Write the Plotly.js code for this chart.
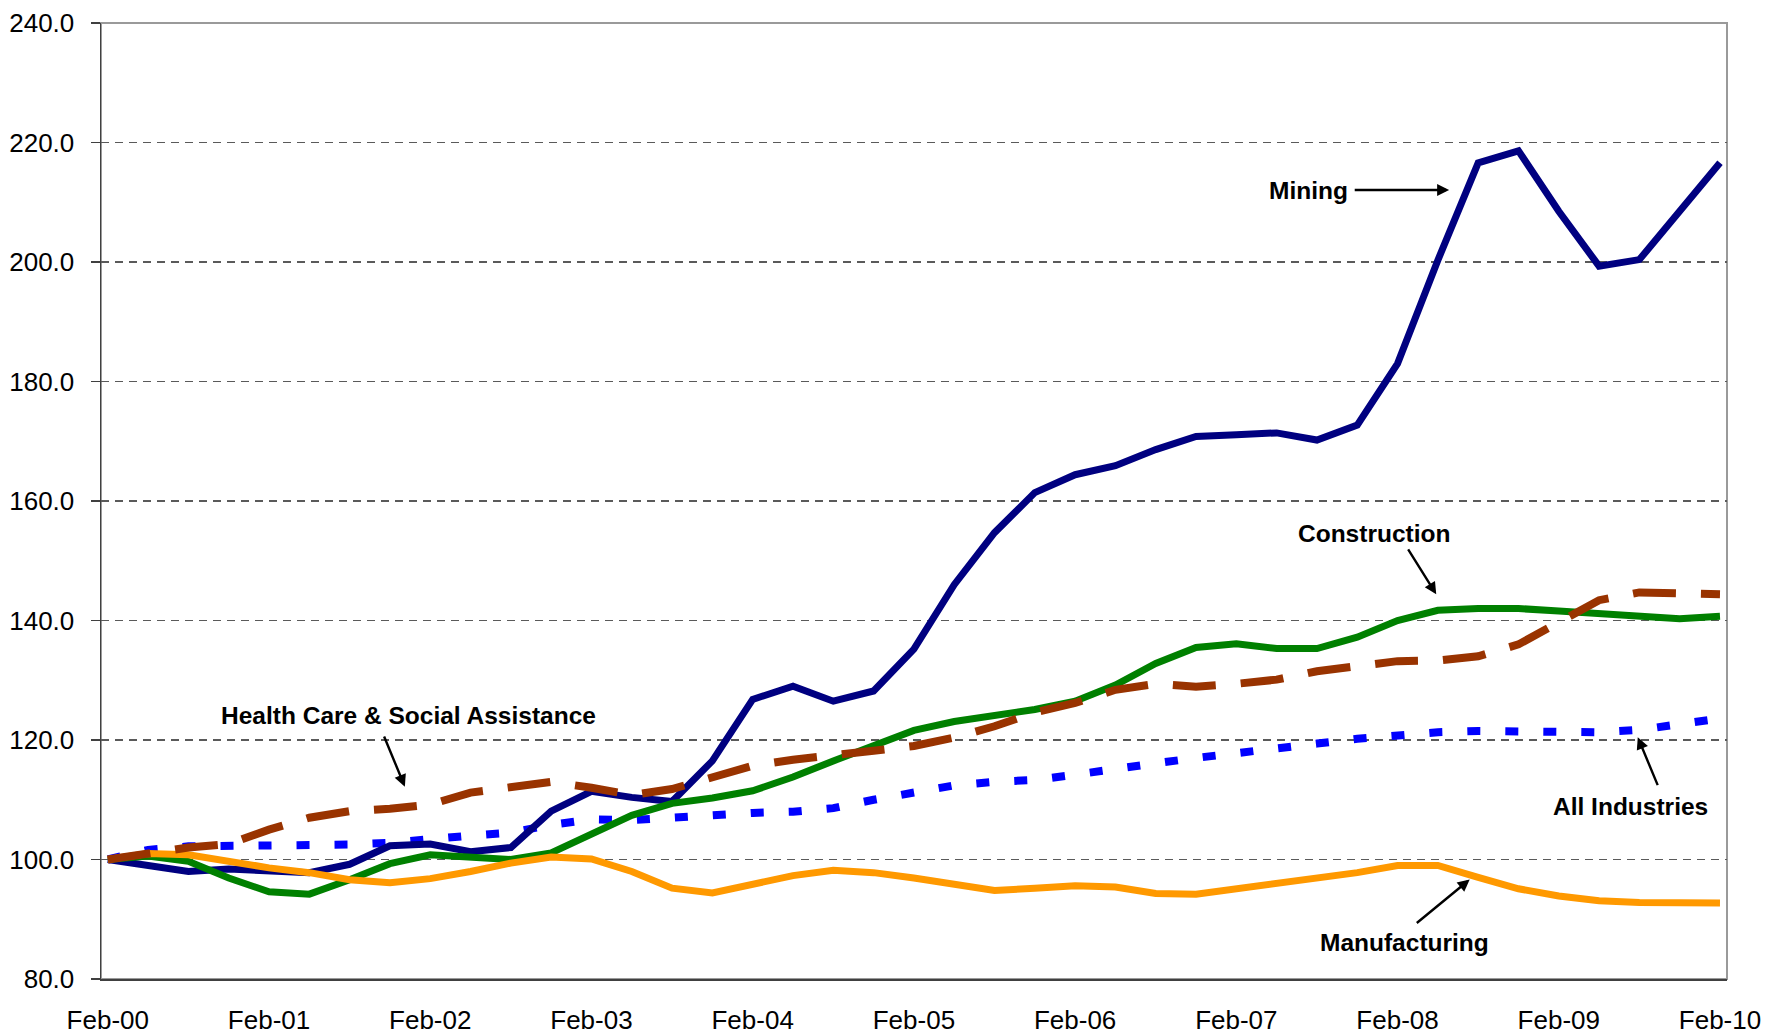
<!DOCTYPE html>
<html>
<head>
<meta charset="utf-8">
<script src="https://cdn.plot.ly/plotly-3.0.1.min.js"></script>
<style>
  html, body { margin: 0; padding: 0; background: #ffffff; }
  #chart { width: 1780px; height: 1036px; }
</style>
</head>
<body>
<div id="chart"></div>
<script>
// Quarterly categories, Feb-00 .. Feb-10
const quarters = [
  'Feb-00','May-00','Aug-00','Nov-00','Feb-01','May-01','Aug-01','Nov-01',
  'Feb-02','May-02','Aug-02','Nov-02','Feb-03','May-03','Aug-03','Nov-03',
  'Feb-04','May-04','Aug-04','Nov-04','Feb-05','May-05','Aug-05','Nov-05',
  'Feb-06','May-06','Aug-06','Nov-06','Feb-07','May-07','Aug-07','Nov-07',
  'Feb-08','May-08','Aug-08','Nov-08','Feb-09','May-09','Aug-09','Nov-09',
  'Feb-10'
];
const tickLabels = ['Feb-00','Feb-01','Feb-02','Feb-03','Feb-04','Feb-05','Feb-06','Feb-07','Feb-08','Feb-09','Feb-10'];

const allIndustries = [100, 101.6, 102.2, 102.2, 102.2, 102.5, 102.5, 102.8, 103.5, 104.0,
  104.5, 105.8, 106.7, 106.6, 107.0, 107.5, 107.8, 108.0, 108.6, 110.0,
  111.3, 112.4, 113.0, 113.3, 114.2, 115.0, 116.1, 117.0, 117.7, 118.4,
  119.4, 120.2, 120.8, 121.3, 121.5, 121.5, 121.5, 121.3, 121.7, 122.7, 123.6];

const mining = [100, 98.9, 98.0, 98.4, 98.0, 97.8, 99.2, 102.3, 102.6, 101.3,
  102.0, 108.1, 111.4, 110.4, 109.7, 116.5, 126.8, 129.0, 126.5, 128.2,
  135.2, 146.0, 154.7, 161.4, 164.4, 165.9, 168.6, 170.8, 171.1, 171.4,
  170.2, 172.7, 183.0, 200.3, 216.6, 218.6, 208.5, 199.3, 200.4, 208.5, 216.6];

const construction = [100, 100.6, 99.7, 96.9, 94.6, 94.2, 96.6, 99.3, 100.8, 100.4,
  100.0, 101.1, 104.2, 107.4, 109.4, 110.3, 111.5, 113.8, 116.5, 119.0,
  121.6, 123.1, 124.0, 125.1, 126.5, 129.2, 132.8, 135.5, 136.1, 135.3,
  135.3, 137.2, 140.0, 141.7, 142.0, 142.0, 141.6, 141.1, 140.7, 140.3, 140.7];

const manufacturing = [100, 101.0, 100.8, 99.7, 98.6, 97.8, 96.6, 96.1, 96.8, 98.0,
  99.4, 100.4, 100.1, 98.0, 95.2, 94.4, 95.8, 97.3, 98.2, 97.8,
  96.9, 95.8, 94.8, 95.2, 95.6, 95.4, 94.3, 94.2, 95.1, 95.9,
  96.8, 97.8, 99.0, 99.0, 97.0, 95.1, 93.9, 93.1, 92.8, 92.8, 92.7];

const healthCare = [100, 101.1, 102.0, 102.6, 105.0, 107.0, 108.1, 108.5, 109.2, 111.2,
  112.2, 113.0, 112.0, 110.8, 111.8, 113.6, 115.7, 116.7, 117.6, 118.2,
  119.0, 120.4, 122.3, 124.6, 126.2, 128.4, 129.4, 128.9, 129.4, 130.1,
  131.5, 132.4, 133.2, 133.3, 134.0, 136.0, 139.7, 143.4, 144.7, 144.7, 144.4];

const yTicks = [80, 100, 120, 140, 160, 180, 200, 220, 240];

// ---------- styling ----------
const axisDark = '#404040';
const tickFont = { family: 'Liberation Sans, Arial, sans-serif', size: 26, color: '#000000' };
const noteFont = { family: 'Liberation Sans, Arial, sans-serif', size: 24.5, color: '#000000' };
const xRange = [-0.169, 40.174];

function line(name, y, color, width, dash) {
  return {
    type: 'scatter', mode: 'lines', name: name,
    x: quarters, y: y,
    line: { color: color, width: width, dash: dash || 'solid' },
    hoverinfo: 'x+y+name'
  };
}

const traces = [
  line('All Industries', allIndustries, '#0000FF', 8, '13px,25px'),
  line('Mining', mining, '#000080', 7),
  line('Construction', construction, '#008000', 7),
  line('Manufacturing', manufacturing, '#FF9900', 7),
  line('Health Care & Social Assistance', healthCare, '#993300', 8, '43px,25px')
];

const yearIdx = tickLabels.map(t => quarters.indexOf(t));

function label(text, x, y) {
  return { xref: 'x', yref: 'y', x: x, y: y, text: '<b>' + text + '</b>', showarrow: false,
           font: noteFont, xanchor: 'center', yanchor: 'middle' };
}
function arrow(x0, y0, x1, y1) {
  return { xref: 'x', yref: 'y', axref: 'x', ayref: 'y', x: x1, y: y1, ax: x0, ay: y0, text: '',
           showarrow: true, arrowhead: 2, arrowsize: 1, arrowwidth: 2.4, arrowcolor: '#000000',
           standoff: 0, startstandoff: 0 };
}

const layout = {
  width: 1780, height: 1036,
  margin: { l: 101, r: 53, t: 23, b: 57, pad: 0 },
  paper_bgcolor: '#ffffff', plot_bgcolor: '#ffffff',
  showlegend: false,
  xaxis: {
    type: 'category', range: xRange,
    tickmode: 'array', tickvals: tickLabels, ticktext: tickLabels,
    ticks: '', showgrid: false, zeroline: false,
    showline: true, linecolor: axisDark, linewidth: 1.5,
    tickfont: tickFont, ticklabelstandoff: 17
  },
  xaxis2: {
    overlaying: 'x', anchor: 'y', side: 'bottom', type: 'linear', range: xRange,
    tickmode: 'array', tickvals: yearIdx.map(i => i - 0.16), ticktext: yearIdx.map(() => ''),
    ticks: 'outside', ticklen: 9, tickwidth: 1.3, tickcolor: axisDark,
    showline: false, showgrid: false, zeroline: false, showticklabels: true
  },
  yaxis: {
    range: [80, 240], tickmode: 'array', tickvals: yTicks,
    ticktext: yTicks.map(v => v.toFixed(1)),
    ticks: 'outside', ticklen: 9, tickwidth: 1.3, tickcolor: axisDark,
    showline: true, linecolor: axisDark, linewidth: 1.5,
    showgrid: true, gridcolor: '#5a5a5a', gridwidth: 1.2, griddash: '8px,6px',
    zeroline: false, tickfont: tickFont, ticklabelstandoff: 11
  },
  shapes: [
    { type: 'rect', xref: 'x domain', yref: 'y domain', x0: 0, x1: 1, y0: 0, y1: 1,
      line: { color: '#9a9a9a', width: 2 }, layer: 'below' }
  ],
  annotations: [
    label('Mining', 29.78, 212.05),
    arrow(30.90, 212.05, 33.28, 212.05),
    label('Construction', 31.42, 154.64),
    arrow(32.24, 152.17, 32.96, 144.39),
    label('Health Care &amp; Social Assistance', 7.47, 124.18),
    arrow(6.84, 120.84, 7.37, 112.19),
    label('All Industries', 37.79, 108.95),
    arrow(38.47, 112.19, 37.96, 120.47),
    label('Manufacturing', 32.16, 86.03),
    arrow(32.44, 89.17, 33.79, 96.65)
  ]
};

Plotly.newPlot('chart', traces, layout, { displayModeBar: false, staticPlot: true });
</script>
</body>
</html>
